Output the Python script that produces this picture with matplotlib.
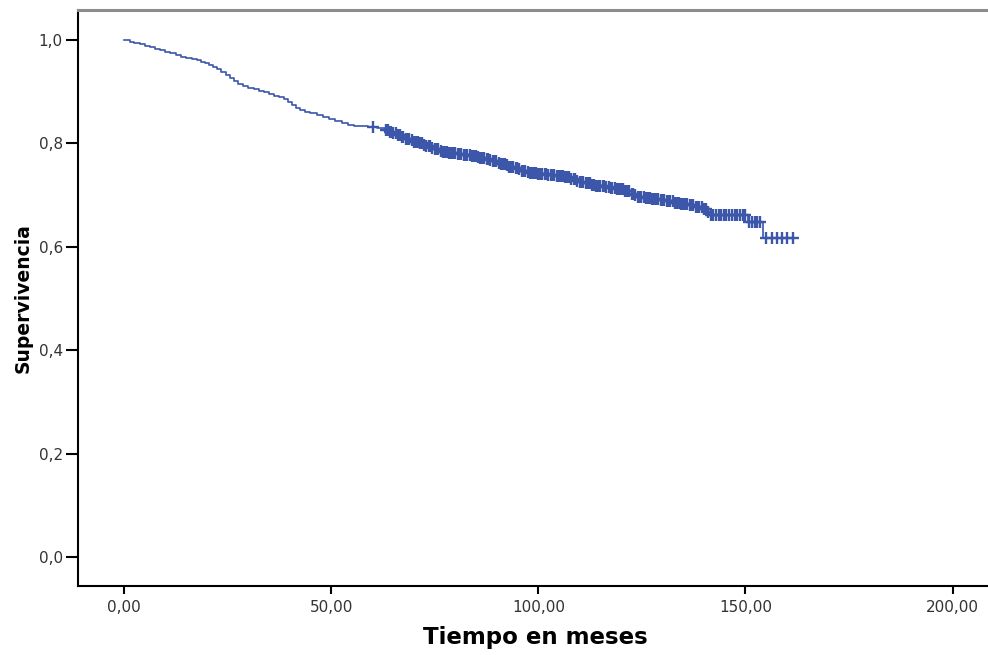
import numpy as np
import matplotlib.pyplot as plt

# Kaplan-Meier estimate: event times (months) and survival after each event
event_t = [0.0, 1.5, 2.5, 3.8, 5.0, 6.3, 7.5, 8.8, 10.0, 11.2, 12.5, 13.8,
           15.0, 16.5, 17.5, 18.5, 19.5, 20.5, 21.5, 22.5, 23.5, 24.5, 25.5,
           26.5, 27.5, 28.8, 30.0, 31.3, 32.5, 33.8, 35.0, 36.3, 37.5, 38.5,
           39.5, 40.5, 41.5, 42.5, 43.8, 45.0, 46.5, 48.0, 49.5, 51.0, 52.5,
           54.0, 55.5, 57.0, 59.0, 61.0, 63.0,
           64.0, 65.0, 66.0, 67.0, 68.0, 69.0, 70.0, 71.0, 72.0, 73.0, 74.0,
           75.0, 76.0, 77.0, 78.0, 80.0, 82.0, 84.0, 85.0, 86.0, 87.0, 88.0,
           89.0, 90.0, 91.0, 92.0, 93.0, 94.0, 95.0, 96.0, 97.0, 98.0, 100.0,
           102.0, 104.0, 106.0, 107.5, 109.0, 110.0, 111.0, 112.5, 114.0,
           116.0, 117.5, 119.0, 121.0, 122.0, 123.0, 124.0, 125.5, 127.0,
           129.0, 131.0, 132.5, 134.0, 136.0, 138.0, 139.5, 140.5, 141.5,
           150.5, 154.2]
event_s = [1.000, 0.997, 0.994, 0.992, 0.989, 0.986, 0.983, 0.980, 0.977,
           0.974, 0.971, 0.968, 0.966, 0.964, 0.961, 0.958, 0.955, 0.951,
           0.947, 0.943, 0.938, 0.932, 0.926, 0.920, 0.914, 0.911, 0.908,
           0.905, 0.902, 0.899, 0.896, 0.892, 0.889, 0.885, 0.880, 0.875,
           0.869, 0.865, 0.861, 0.858, 0.855, 0.852, 0.848, 0.844, 0.840,
           0.836, 0.834, 0.833, 0.831, 0.829, 0.826,
           0.823, 0.820, 0.816, 0.812, 0.809, 0.806, 0.803, 0.800, 0.797,
           0.795, 0.792, 0.789, 0.786, 0.784, 0.782, 0.780, 0.778, 0.776,
           0.774, 0.772, 0.770, 0.768, 0.766, 0.763, 0.760, 0.758, 0.755,
           0.752, 0.750, 0.747, 0.745, 0.742, 0.740, 0.738, 0.737, 0.735,
           0.732, 0.728, 0.725, 0.723, 0.720, 0.718, 0.716, 0.713, 0.711,
           0.708, 0.703, 0.700, 0.697, 0.694, 0.692, 0.690, 0.688, 0.685,
           0.682, 0.680, 0.677, 0.674, 0.668, 0.661, 0.648, 0.617]

# censored observations (months)
censor_t = [60.2, 63.2, 63.6, 64.1, 64.5, 65.0, 65.6, 66.1, 66.5, 67.0, 67.4,
            68.0, 68.5, 68.9, 69.4, 70.0, 70.4, 70.9, 71.5, 71.9, 72.4, 73.0,
            73.5, 73.9, 74.4, 75.0, 75.5, 75.9, 76.4, 77.0, 77.4, 77.9, 78.5,
            79.0, 79.4, 79.9, 80.5, 80.9, 81.4, 82.0, 82.5, 82.9, 83.4, 84.0,
            84.4, 84.9, 85.5, 86.0, 86.4, 86.9, 87.5, 87.9, 88.4, 89.0, 89.5,
            89.9, 90.4, 91.0, 91.4, 91.9, 92.5, 93.0, 93.4, 93.9, 94.5, 94.9,
            95.4, 96.0, 96.5, 96.9, 97.4, 98.0, 98.4, 98.9, 99.5, 100.0, 100.4,
            100.9, 101.5, 101.9, 102.4, 103.0, 103.5, 103.9, 104.4, 105.0,
            105.4, 105.9, 106.5, 107.0, 107.4, 107.9, 108.5, 108.9, 109.4,
            110.0, 110.5, 110.9, 111.4, 112.0, 112.4, 112.9, 113.5, 114.0,
            114.4, 114.9, 115.5, 115.9, 116.4, 117.0, 117.5, 117.9, 118.4,
            119.0, 119.4, 119.9, 120.5, 121.0, 121.4, 121.9, 122.5, 122.9,
            123.4, 124.0, 124.5, 124.9, 125.4, 126.0, 126.4, 126.9, 127.5,
            128.0, 128.4, 128.9, 129.5, 129.9, 130.4, 131.0, 131.5, 131.9,
            132.4, 133.0, 133.4, 133.9, 134.5, 135.0, 135.4, 135.9, 136.5,
            136.9, 137.4, 138.0, 138.5, 138.9, 139.4, 140.0, 140.4, 140.9,
            141.6, 142.2, 142.8, 143.5, 144.1, 144.8, 145.4, 146.1, 146.7,
            147.4, 148.0, 148.7, 149.3, 150.0, 150.8, 151.5, 152.2, 152.9,
            153.6, 155.0, 156.4, 157.6, 158.9, 160.1, 161.4]
t_end = 161.6

xticks = [0, 50, 100, 150, 200]
yticks = [0.0, 0.2, 0.4, 0.6, 0.8, 1.0]

blue = '#3c56aa'

fig = plt.figure(figsize=(9.88, 6.55), dpi=100)
ax = fig.add_axes([0.079, 0.1053, 0.925, 0.8794])

et = np.array(event_t)
es = np.array(event_s)
ax.step(np.append(et, t_end), np.append(es, es[-1]), where='post',
        color=blue, lw=1.2)

# censor ticks sit on the curve at their time
ct = np.array(censor_t)
idx = np.searchsorted(et, ct, side='right') - 1
ax.plot(ct, es[idx], ls='none', marker='+', ms=8, mew=1.7, color=blue)

ax.set_xlim(-11.1, 209.5)
ax.set_ylim(-0.056, 1.058)
ax.set_xticks(xticks)
ax.set_xticklabels([f'{v:.2f}'.replace('.', ',') for v in xticks])
ax.set_yticks(yticks)
ax.set_yticklabels([f'{v:.1f}'.replace('.', ',') for v in yticks])

ax.tick_params(axis='both', labelsize=11, labelcolor='#333333', width=1.5)
ax.tick_params(axis='x', length=6, pad=4)
ax.tick_params(axis='y', length=9, pad=2)

ax.spines['right'].set_visible(False)
ax.spines['top'].set_color('#8c8c8c')
ax.spines['top'].set_linewidth(2.2)
ax.spines['left'].set_linewidth(1.5)
ax.spines['bottom'].set_linewidth(1.5)

ax.set_xlabel('Tiempo en meses', fontsize=16.5, fontweight='bold', labelpad=8)
ax.set_ylabel('Supervivencia', fontsize=13.5, fontweight='bold', labelpad=4)

fig.savefig('out.png', dpi=100)
